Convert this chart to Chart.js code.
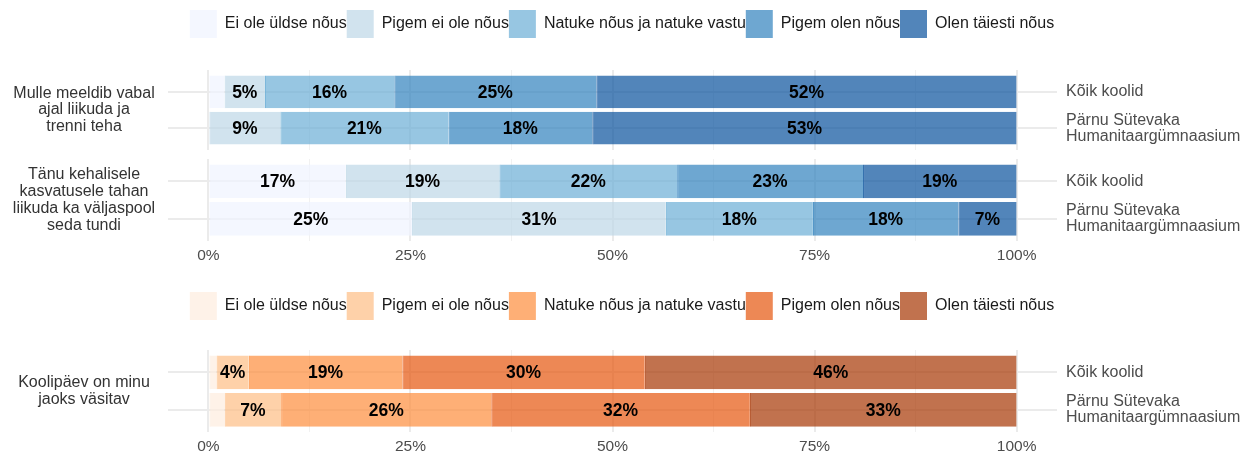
<!DOCTYPE html>
<html><head><meta charset="utf-8">
<script src="https://cdn.jsdelivr.net/npm/chart.js@4"></script>
<style>
html,body{margin:0;padding:0;background:#fff;overflow:hidden;width:1244px;height:454px;}
canvas{position:absolute;left:0;}
</style></head><body>
<canvas id="c1" width="1244" height="150" style="top:0px"></canvas>
<canvas id="c2" width="1244" height="111" style="top:159px"></canvas>
<canvas id="c3" width="1244" height="182" style="top:279px"></canvas>
<script>
// ---- data ----
const levels = ['Ei ole üldse nõus', 'Pigem ei ole nõus', 'Natuke nõus ja natuke vastu', 'Pigem olen nõus', 'Olen täiesti nõus'];
const schools = ['Kõik koolid', ['Pärnu Sütevaka', 'Humanitaargümnaasium']];
const xTicks = [0, 12.5, 25, 37.5, 50, 62.5, 75, 87.5, 100];
const q1Label = ['Mulle meeldib vabal', 'ajal liikuda ja', 'trenni teha'];
const q2Label = ['Tänu kehalisele', 'kasvatusele tahan', 'liikuda ka väljaspool', 'seda tundi'];
const q3Label = ['Koolipäev on minu', 'jaoks väsitav'];
const q1Koik  = [2, 5, 16, 25, 52];
const q1Parnu = [0, 8.9, 20.8, 17.8, 52.5];
const q2Koik  = [17, 19, 22, 23, 19];
const q2Parnu = [25.2, 31.4, 18.2, 18.0, 7.2];
const q3Koik  = [1, 4, 19, 30, 46];
const q3Parnu = [2, 7, 26, 32, 33];

// ---- styles ----
const blues = ['#EFF3FF', '#BDD7E7', '#6BAED6', '#3182BD', '#08519C'];
const oranges = ['#FEEDDE', '#FDBE85', '#FD8D3C', '#E6550D', '#A63603'];
const FONT = '"Liberation Sans", Arial, Helvetica, sans-serif';
const LEFT_W = 168, RIGHT_W = 187, LABEL_CX = 84;

Chart.defaults.font.family = FONT;
Chart.defaults.font.size = 16;
Chart.defaults.animation = false;

function rgba(hex, a) {
  const n = parseInt(hex.slice(1), 16);
  return `rgba(${(n >> 16) & 255},${(n >> 8) & 255},${n & 255},${a})`;
}
const mctx = document.createElement('canvas').getContext('2d');
function leftPad(lines) {
  mctx.font = '16px ' + FONT;
  const w = Math.max(...lines.map(l => mctx.measureText(l).width));
  return LEFT_W - LABEL_CX - w / 2;
}

const barLabels = {
  id: 'barLabels',
  afterDatasetsDraw(chart) {
    const ctx = chart.ctx;
    ctx.save();
    ctx.font = 'bold 17.5px ' + FONT;
    ctx.fillStyle = '#000';
    ctx.textAlign = 'center';
    ctx.textBaseline = 'middle';
    chart.data.datasets.forEach((ds, i) => {
      const meta = chart.getDatasetMeta(i);
      meta.data.forEach((bar, j) => {
        const v = ds.data[j].x;
        if (v < 3) return;
        const p = bar.getProps(['x', 'y', 'base'], true);
        ctx.fillText(Math.round(v) + '%', (p.x + p.base) / 2, p.y + 1);
      });
    });
    ctx.restore();
  }
};

const legendHeight = {
  id: 'legendHeight',
  beforeInit(chart, args, opts) {
    const lg = chart.legend;
    if (!lg || !opts || !opts.height) return;
    const fit = lg.fit;
    lg.fit = function () { fit.call(this); this.height = opts.height; };
  }
};

function makeChart(id, qLabel, koik, parnu, palette, cfg) {
  const datasets = levels.map((name, k) => ({
    label: name,
    data: [{ x: koik[k], y: 0 }, { x: parnu[k], y: 1 }],
    yAxisID: 'y',
    grouped: false,
    backgroundColor: rgba(palette[k], 0.7),
    borderColor: rgba(palette[k], 0.88),
    borderWidth: { left: 1, right: 0, top: 0, bottom: 0 },
    borderSkipped: false,
    categoryPercentage: 1,
    barPercentage: 0.9
  }));
  return new Chart(document.getElementById(id), {
    type: 'bar',
    data: { datasets },
    plugins: [barLabels, legendHeight],
    options: {
      responsive: false,
      indexAxis: 'y',
      layout: { padding: { top: cfg.padTop || 0, left: 0, right: 0, bottom: 0 } },
      plugins: {
        tooltip: { enabled: false },
        legendHeight: { height: cfg.legendH || 0 },
        legend: {
          display: !!cfg.legend,
          position: 'top',
          labels: {
            boxWidth: 27, boxHeight: 28, padding: 0, color: '#1a1a1a',
            font: { size: 16 },
            generateLabels: (ch) => Chart.defaults.plugins.legend.labels.generateLabels(ch).map(l => Object.assign(l, { lineWidth: 0 }))
          }
        }
      },
      scales: {
        x: {
          type: 'linear', min: -5, max: 105, stacked: true, offset: false,
          afterBuildTicks: s => { s.ticks = xTicks.map(v => ({ value: v })); },
          grid: {
            drawTicks: false, offset: false,
            color: c => (c.tick && c.tick.value % 25 === 0) ? '#EBEBEB' : '#F1F1F1',
            lineWidth: c => (c.tick && c.tick.value % 25 === 0) ? 2 : 1
          },
          border: { display: false },
          ticks: {
            display: !!cfg.showX, autoSkip: false, maxRotation: 0, padding: 5,
            color: '#4D4D4D', font: { size: 15.5 },
            callback: v => (v % 25 === 0 ? v + '%' : '')
          }
        },
        y: {
          type: 'linear', position: 'right', min: -0.6, max: 1.6, reverse: true, stacked: true, offset: false,
          afterBuildTicks: s => { s.ticks = [{ value: 0 }, { value: 1 }]; },
          afterFit: s => { s.width = RIGHT_W; s.paddingTop = 0; s.paddingBottom = 0; },
          grid: { color: '#EBEBEB', lineWidth: 2, drawTicks: false, offset: false },
          border: { display: false },
          ticks: { padding: 9, color: '#4D4D4D', font: { size: 16, lineHeight: 1.0 }, callback: (v, i) => schools[i] }
        },
        yL: {
          type: 'linear', position: 'left', min: 0, max: 1, offset: false,
          afterBuildTicks: s => { s.ticks = [{ value: 0.5 }]; },
          afterFit: s => { s.width = LEFT_W; s.paddingTop = 0; s.paddingBottom = 0; },
          grid: { display: false, drawTicks: false, offset: false },
          border: { display: false },
          ticks: { crossAlign: 'center', padding: leftPad(qLabel), color: '#333333', font: { size: 16, lineHeight: 1.05 }, callback: () => qLabel }
        }
      }
    }
  });
}

makeChart('c1', q1Label, q1Koik, q1Parnu, blues, { legend: true, padTop: 10, legendH: 60 });
makeChart('c2', q2Label, q2Koik, q2Parnu, blues, { showX: true });
makeChart('c3', q3Label, q3Koik, q3Parnu, oranges, { legend: true, padTop: 13, legendH: 58, showX: true });
</script>
</body></html>
